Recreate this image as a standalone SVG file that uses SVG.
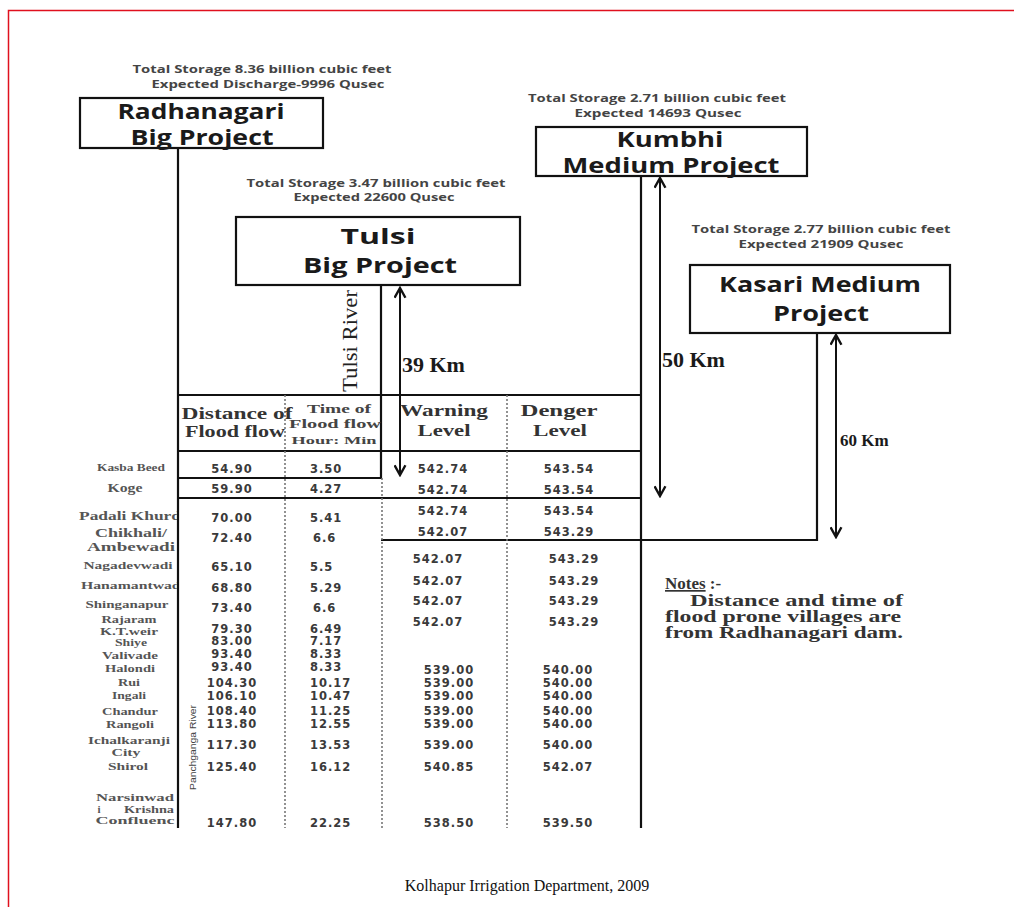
<svg xmlns="http://www.w3.org/2000/svg" width="1014" height="907" viewBox="0 0 1014 907">
<defs>
<style>
.bg{fill:#fff}
.frame{fill:none;stroke:#e0101e;stroke-width:1.5}
.box{fill:#fff;stroke:#111;stroke-width:2.2}
.ln{fill:none;stroke:#111;stroke-width:2.2}
.dot{fill:none;stroke:#777;stroke-width:1.6;stroke-dasharray:2 2}
.arr{fill:none;stroke:#111;stroke-width:2;marker-start:url(#ah);marker-end:url(#ah)}
.cap{font-family:"Open Sans","Liberation Sans",sans-serif;font-weight:bold;font-size:11px;fill:#444;text-anchor:middle}
.ttl{font-family:"Open Sans","Liberation Sans",sans-serif;font-weight:bold;font-size:21px;fill:#1a1a1a;text-anchor:middle}
.km{font-family:"Liberation Serif",serif;font-weight:bold;font-size:22px;fill:#1a1a1a}
.hd{font-family:"Liberation Serif",serif;font-weight:bold;font-size:17px;fill:#333;text-anchor:middle}
.hs{font-family:"Liberation Serif",serif;font-weight:bold;font-size:12px;fill:#444;text-anchor:middle}
.nm{font-family:"Liberation Serif",serif;font-weight:bold;font-size:11px;fill:#555;text-anchor:middle}
.v{font-family:"DejaVu Sans",Verdana,sans-serif;font-weight:bold;font-size:11.5px;letter-spacing:1px;fill:#3a3a3a;text-anchor:middle}
.t{text-anchor:start}
.note{font-family:"Liberation Serif",serif;font-weight:bold;font-size:16px;fill:#333}
.foot{font-family:"Liberation Serif",serif;font-size:16px;fill:#111;text-anchor:middle}
</style>
<marker id="ah" viewBox="0 0 12 12" refX="10" refY="6" markerWidth="13" markerHeight="13" markerUnits="userSpaceOnUse" orient="auto-start-reverse">
<path d="M1,1 L10,6 L1,11" fill="none" stroke="#111" stroke-width="2.2"/>
</marker>
<clipPath id="nmclip"><rect x="0" y="0" width="177" height="907"/></clipPath>
</defs>
<rect class="bg" x="0" y="0" width="1014" height="907"/>
<rect class="frame" x="8.5" y="10.5" width="1010" height="900"/>

<g id="connectors">
<path class="ln" d="M178,148 V828"/>
<path class="ln" d="M381,285 V478 H178"/>
<path class="ln" d="M641,176 V828"/>
<path class="ln" d="M817,333 V540 H381"/>
<path class="ln" d="M178,395 H641"/>
<path class="ln" d="M178,451 H641"/>
<path class="ln" d="M178,498 H641"/>
<path class="dot" d="M285,395 V828"/>
<path class="dot" d="M382,478 V828"/>
<path class="dot" d="M507,395 V828"/>
<path class="arr" d="M400,288 V475"/>
<path class="arr" d="M660,178 V496"/>
<path class="arr" d="M836,335 V537"/>
<text class="km" x="402" y="372">39 Km</text>
<text class="km" x="662" y="367">50 Km</text>
<text class="km" x="840" y="446" style="font-size:17px">60 Km</text>
<text x="0" y="0" transform="translate(357,392) rotate(-90)" style="font-family:'Liberation Serif',serif;font-size:20px;fill:#222" textLength="102" lengthAdjust="spacingAndGlyphs">Tulsi River</text>
<text x="0" y="0" transform="translate(196,790) rotate(-90)" style="font-family:'Liberation Sans',sans-serif;font-size:9px;fill:#444" textLength="85" lengthAdjust="spacingAndGlyphs">Panchganga River</text>
</g>

<g id="radhanagari">
<text class="cap" x="262" y="73" textLength="259" lengthAdjust="spacingAndGlyphs">Total Storage 8.36 billion cubic feet</text>
<text class="cap" x="268" y="88" textLength="233" lengthAdjust="spacingAndGlyphs">Expected Discharge-9996 Qusec</text>
<rect class="box" x="80" y="98" width="243" height="50"/>
<text class="ttl" x="201" y="119" textLength="167" lengthAdjust="spacingAndGlyphs">Radhanagari</text>
<text class="ttl" x="202" y="145" textLength="143" lengthAdjust="spacingAndGlyphs">Big Project</text>
</g>

<g id="kumbhi">
<text class="cap" x="657" y="102" textLength="258" lengthAdjust="spacingAndGlyphs">Total Storage 2.71 billion cubic feet</text>
<text class="cap" x="658" y="117" textLength="167" lengthAdjust="spacingAndGlyphs">Expected 14693 Qusec</text>
<rect class="box" x="536" y="127" width="271" height="49"/>
<text class="ttl" x="670" y="147" textLength="107" lengthAdjust="spacingAndGlyphs">Kumbhi</text>
<text class="ttl" x="671" y="173" textLength="217" lengthAdjust="spacingAndGlyphs">Medium Project</text>
</g>

<g id="tulsi">
<text class="cap" x="376" y="187" textLength="259" lengthAdjust="spacingAndGlyphs">Total Storage 3.47 billion cubic feet</text>
<text class="cap" x="374" y="201" textLength="161" lengthAdjust="spacingAndGlyphs">Expected 22600 Qusec</text>
<rect class="box" x="236" y="217" width="284" height="68"/>
<text class="ttl" x="378" y="244" textLength="75" lengthAdjust="spacingAndGlyphs">Tulsi</text>
<text class="ttl" x="380" y="273" textLength="154" lengthAdjust="spacingAndGlyphs">Big Project</text>
</g>

<g id="kasari">
<text class="cap" x="821" y="233" textLength="259" lengthAdjust="spacingAndGlyphs">Total Storage 2.77 billion cubic feet</text>
<text class="cap" x="821" y="248" textLength="165" lengthAdjust="spacingAndGlyphs">Expected 21909 Qusec</text>
<rect class="box" x="690" y="265" width="260" height="68"/>
<text class="ttl" x="820" y="292" textLength="202" lengthAdjust="spacingAndGlyphs">Kasari Medium</text>
<text class="ttl" x="821" y="321" textLength="96" lengthAdjust="spacingAndGlyphs">Project</text>
</g>

<g id="table-header">
<text class="hd" x="237" y="419" textLength="111" lengthAdjust="spacingAndGlyphs">Distance of</text>
<text class="hd" x="235" y="437" textLength="100" lengthAdjust="spacingAndGlyphs">Flood flow</text>
<text class="hs" x="339" y="413" textLength="64" lengthAdjust="spacingAndGlyphs">Time of</text>
<text class="hs" x="335" y="428" textLength="92" lengthAdjust="spacingAndGlyphs">Flood flow</text>
<text class="hs" x="334" y="444" style="font-size:11px" textLength="85" lengthAdjust="spacingAndGlyphs">Hour: Min</text>
<text class="hd" x="444" y="416" textLength="88" lengthAdjust="spacingAndGlyphs">Warning</text>
<text class="hd" x="444" y="436" textLength="53" lengthAdjust="spacingAndGlyphs">Level</text>
<text class="hd" x="559" y="416" textLength="77" lengthAdjust="spacingAndGlyphs">Denger</text>
<text class="hd" x="560" y="436" textLength="54" lengthAdjust="spacingAndGlyphs">Level</text>
</g>

<g id="village-names" clip-path="url(#nmclip)">
<text class="nm" x="131" y="471" style="font-size:10px" textLength="68" lengthAdjust="spacingAndGlyphs">Kasba Beed</text>
<text class="nm" x="125" y="492" style="font-size:12px" textLength="35" lengthAdjust="spacingAndGlyphs">Koge</text>
<text class="nm" x="130" y="520" style="font-size:13px" textLength="102" lengthAdjust="spacingAndGlyphs">Padali Khurd</text>
<text class="nm" x="131" y="537" style="font-size:12.5px" textLength="72" lengthAdjust="spacingAndGlyphs">Chikhali/</text>
<text class="nm" x="131" y="551" style="font-size:12.5px" textLength="88" lengthAdjust="spacingAndGlyphs">Ambewadi</text>
<text class="nm" x="128" y="569" textLength="89" lengthAdjust="spacingAndGlyphs">Nagadevwadi</text>
<text class="nm" x="133" y="589" textLength="104" lengthAdjust="spacingAndGlyphs">Hanamantwadi</text>
<text class="nm" x="127" y="608" textLength="83" lengthAdjust="spacingAndGlyphs">Shinganapur</text>
<text class="nm" x="129" y="623" textLength="55" lengthAdjust="spacingAndGlyphs">Rajaram</text>
<text class="nm" x="129" y="635" textLength="58" lengthAdjust="spacingAndGlyphs">K.T.weir</text>
<text class="nm" x="131" y="646" textLength="32" lengthAdjust="spacingAndGlyphs">Shiye</text>
<text class="nm" x="130" y="659" textLength="56" lengthAdjust="spacingAndGlyphs">Valivade</text>
<text class="nm" x="130" y="672" textLength="50" lengthAdjust="spacingAndGlyphs">Halondi</text>
<text class="nm" x="129" y="686" textLength="22" lengthAdjust="spacingAndGlyphs">Rui</text>
<text class="nm" x="129" y="699" textLength="34" lengthAdjust="spacingAndGlyphs">Ingali</text>
<text class="nm" x="130" y="715" textLength="56" lengthAdjust="spacingAndGlyphs">Chandur</text>
<text class="nm" x="130" y="728" textLength="48" lengthAdjust="spacingAndGlyphs">Rangoli</text>
<text class="nm" x="129" y="744" textLength="82" lengthAdjust="spacingAndGlyphs">Ichalkaranji</text>
<text class="nm" x="126" y="756" textLength="29" lengthAdjust="spacingAndGlyphs">City</text>
<text class="nm" x="128" y="770" textLength="40" lengthAdjust="spacingAndGlyphs">Shirol</text>
<text class="nm" x="135" y="801" textLength="78" lengthAdjust="spacingAndGlyphs">Narsinwad</text>
<text class="nm" y="813"><tspan x="99">i</tspan><tspan x="149" textLength="50" lengthAdjust="spacingAndGlyphs">Krishna</tspan></text>
<text class="nm" x="135" y="824" textLength="79" lengthAdjust="spacingAndGlyphs">Confluenc</text>
</g>

<g id="distance-column">
<text class="v" x="232" y="473">54.90</text>
<text class="v" x="232" y="493">59.90</text>
<text class="v" x="232" y="522">70.00</text>
<text class="v" x="232" y="542">72.40</text>
<text class="v" x="232" y="571">65.10</text>
<text class="v" x="232" y="592">68.80</text>
<text class="v" x="232" y="612">73.40</text>
<text class="v" x="232" y="633">79.30</text>
<text class="v" x="232" y="645">83.00</text>
<text class="v" x="232" y="658">93.40</text>
<text class="v" x="232" y="671">93.40</text>
<text class="v" x="232" y="687">104.30</text>
<text class="v" x="232" y="700">106.10</text>
<text class="v" x="232" y="715">108.40</text>
<text class="v" x="232" y="728">113.80</text>
<text class="v" x="232" y="749">117.30</text>
<text class="v" x="232" y="771">125.40</text>
<text class="v" x="232" y="827">147.80</text>
</g>

<g id="time-column">
<text class="v t" x="310" y="473">3.50</text>
<text class="v t" x="310" y="493">4.27</text>
<text class="v t" x="310" y="522">5.41</text>
<text class="v t" x="313" y="542">6.6</text>
<text class="v t" x="310" y="571">5.5</text>
<text class="v t" x="310" y="592">5.29</text>
<text class="v t" x="313" y="612">6.6</text>
<text class="v t" x="310" y="633">6.49</text>
<text class="v t" x="310" y="645">7.17</text>
<text class="v t" x="310" y="658">8.33</text>
<text class="v t" x="310" y="671">8.33</text>
<text class="v t" x="310" y="687">10.17</text>
<text class="v t" x="310" y="700">10.47</text>
<text class="v t" x="310" y="715">11.25</text>
<text class="v t" x="310" y="728">12.55</text>
<text class="v t" x="310" y="749">13.53</text>
<text class="v t" x="310" y="771">16.12</text>
<text class="v t" x="310" y="827">22.25</text>
</g>

<g id="warning-column">
<text class="v" x="443" y="473">542.74</text>
<text class="v" x="443" y="494">542.74</text>
<text class="v" x="443" y="515">542.74</text>
<text class="v" x="443" y="536">542.07</text>
<text class="v" x="438" y="563">542.07</text>
<text class="v" x="438" y="585">542.07</text>
<text class="v" x="438" y="605">542.07</text>
<text class="v" x="438" y="626">542.07</text>
<text class="v" x="449" y="674">539.00</text>
<text class="v" x="449" y="687">539.00</text>
<text class="v" x="449" y="700">539.00</text>
<text class="v" x="449" y="715">539.00</text>
<text class="v" x="449" y="728">539.00</text>
<text class="v" x="449" y="749">539.00</text>
<text class="v" x="449" y="771">540.85</text>
<text class="v" x="449" y="827">538.50</text>
</g>

<g id="danger-column">
<text class="v" x="569" y="473">543.54</text>
<text class="v" x="569" y="494">543.54</text>
<text class="v" x="569" y="515">543.54</text>
<text class="v" x="569" y="536">543.29</text>
<text class="v" x="574" y="563">543.29</text>
<text class="v" x="574" y="585">543.29</text>
<text class="v" x="574" y="605">543.29</text>
<text class="v" x="574" y="626">543.29</text>
<text class="v" x="568" y="674">540.00</text>
<text class="v" x="568" y="687">540.00</text>
<text class="v" x="568" y="700">540.00</text>
<text class="v" x="568" y="715">540.00</text>
<text class="v" x="568" y="728">540.00</text>
<text class="v" x="568" y="749">540.00</text>
<text class="v" x="568" y="771">542.07</text>
<text class="v" x="568" y="827">539.50</text>
</g>

<g id="notes">
<text class="note" x="665" y="589" style="font-size:17px"><tspan text-decoration="underline">Notes</tspan> :-</text>
<text class="note" x="690" y="606" textLength="213" lengthAdjust="spacingAndGlyphs">Distance and time of</text>
<text class="note" x="665" y="622" textLength="236" lengthAdjust="spacingAndGlyphs">flood prone villages are</text>
<text class="note" x="665" y="638" textLength="238" lengthAdjust="spacingAndGlyphs">from Radhanagari dam.</text>
</g>

<g id="footer">
<text class="foot" x="527" y="891">Kolhapur Irrigation Department, 2009</text>
</g>
</svg>
